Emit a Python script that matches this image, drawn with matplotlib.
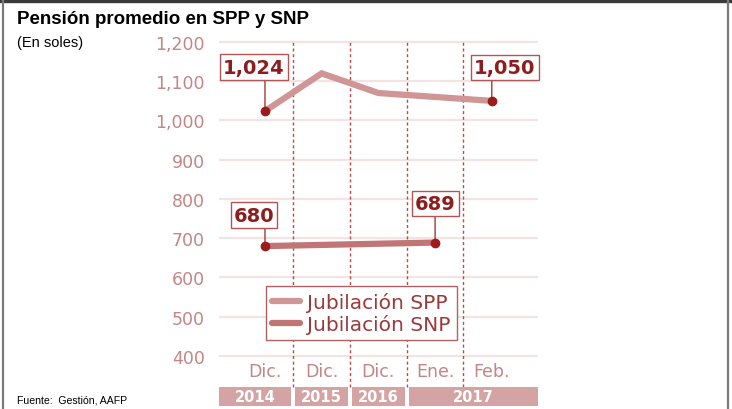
import matplotlib.pyplot as plt
from matplotlib.lines import Line2D
from matplotlib.patches import Rectangle
import numpy as np

# data
months = ['Dic.', 'Dic.', 'Dic.', 'Ene.', 'Feb.']
years = ['2014', '2015', '2016', '2017']
months_per_year = [1, 1, 1, 2]
spp = [1024, 1120, 1070, 1060, 1050]
snp = [680, 683, 686, 689]
yticks = [400, 500, 600, 700, 800, 900, 1000, 1100, 1200]

font = 'DejaVu Sans'
head = 'Liberation Sans'

c_spp = '#d09595'
c_snp = '#c27575'
c_dot = '#9c1c1c'
c_dark = '#8e1e1e'
c_tick = '#c38585'
c_grid = '#f4e3e3'
c_band = '#d4a4a4'

fig = plt.figure(figsize=(7.32, 4.10), dpi=100)
ax = fig.add_axes([219 / 732, 3 / 410, 319 / 732, 367 / 410])
ax.set_xlim(-0.811, 4.815)
ax.set_ylim(272.6, 1207.6)
for s in ax.spines.values():
    s.set_visible(False)

ax.set_yticks(yticks)
ax.set_yticklabels([f'{v:,}' for v in yticks], fontfamily=font, fontsize=12.5, color=c_tick)
ax.tick_params(axis='y', length=0, pad=10)
ax.set_xticks([])
ax.grid(axis='y', color=c_grid, lw=1.6)
ax.set_axisbelow(True)

# year separators
bounds = np.cumsum(months_per_year)[:-1] - 0.5
ax.vlines(np.arange(len(months) - 1) + 0.5, 321, 1200, color='#bb4a4a', lw=1,
          linestyles=(0, (2.2, 1.9)), zorder=1)

# month and year labels
for i, m in enumerate(months):
    ax.text(i, 361, m, ha='center', va='center', fontfamily=font, fontsize=12.5, color=c_tick)
edges = np.concatenate([[-0.811], bounds, [4.815]])
for k, y in enumerate(years):
    x0 = edges[k] + (0.035 if k > 0 else 0)
    x1 = edges[k + 1] - (0.035 if k < len(years) - 1 else 0)
    ax.add_patch(Rectangle((x0, 272.6), x1 - x0, 321 - 272.6, color=c_band, lw=0, zorder=1))
    ax.text((x0 + x1) / 2, 297, y, ha='center', va='center', fontfamily=font,
            fontsize=10.5, fontweight='bold', color='white')

x_spp = np.arange(len(spp))
x_snp = np.arange(len(snp))
ax.plot(x_spp, spp, color=c_spp, lw=4.5, solid_capstyle='round', solid_joinstyle='miter',
        label='Jubilación SPP', zorder=3)
ax.plot(x_snp, snp, color=c_snp, lw=4.5, solid_capstyle='round',
        label='Jubilación SNP', zorder=3)
ax.plot([x_spp[0], x_spp[-1]], [spp[0], spp[-1]], 'o', color=c_dot, ms=6, zorder=4)
ax.plot([x_snp[0], x_snp[-1]], [snp[0], snp[-1]], 'o', color=c_dot, ms=6, zorder=4)

# value callouts: (x, value, box centre offset in px)
callouts = [
    (x_spp[0], spp[0], (-11, 44)),
    (x_spp[-1], spp[-1], (13, 33)),
    (x_snp[0], snp[0], (-11, 31)),
    (x_snp[-1], snp[-1], (0, 39)),
]
boxes = []
for x, v, off in callouts:
    t = ax.annotate(f'{v:,}', xy=(x, v), xytext=off, textcoords='offset pixels',
                    ha='center', va='center', fontfamily=font, fontsize=14,
                    fontweight='bold', color=c_dark, zorder=5,
                    bbox=dict(boxstyle='square,pad=0.16', fc='white', ec='#b35555', lw=1))
    boxes.append(t)

leg = ax.legend(loc='upper left', bbox_to_anchor=(0.147, 0.327), borderaxespad=0,
                frameon=True, fancybox=False, edgecolor='#b56060', framealpha=1,
                prop={'family': font, 'size': 14.5}, labelcolor='#9a3a3a',
                handlelength=1.4, handletextpad=0.35, borderpad=0.3, labelspacing=0.12)
leg.get_frame().set_linewidth(1)
for h in leg.get_lines():
    h.set_linewidth(4.5)
    h.set_solid_capstyle('round')

# vertical leader from each point up to the bottom of its box
fig.canvas.draw()
for (x, v, off), t in zip(callouts, boxes):
    bb = t.get_bbox_patch().get_window_extent()
    py = ax.transData.transform((x, v))[1]
    ax.annotate('', xy=(x, v), xytext=(0, bb.y0 - py), textcoords='offset pixels',
                arrowprops=dict(arrowstyle='-', color='#a33a3a', lw=1, shrinkA=0, shrinkB=0),
                zorder=2)

# titles and source
fig.text(17 / 732, 1 - 20 / 410, 'Pensión promedio en SPP y SNP', ha='left', va='center',
         fontfamily=head, fontsize=13.5, fontweight='bold', color='black')
fig.text(17 / 732, 1 - 43 / 410, '(En soles)', ha='left', va='center',
         fontfamily=head, fontsize=10.5, color='black')
fig.text(17 / 732, 1 - 401 / 410, 'Fuente:  Gestión, AAFP', ha='left', va='center',
         fontfamily=head, fontsize=7.6, color='black')

# page frame
fig.add_artist(Line2D([0, 1], [1 - 1.5 / 410] * 2, transform=fig.transFigure, color='#3a3a3a', lw=2.4))
fig.add_artist(Line2D([3 / 732] * 2, [0, 1], transform=fig.transFigure, color='#7a7a7a', lw=1.6))
fig.add_artist(Line2D([727.5 / 732] * 2, [0, 1], transform=fig.transFigure, color='#7a7a7a', lw=1.6))

fig.savefig('out.png', dpi=100)
